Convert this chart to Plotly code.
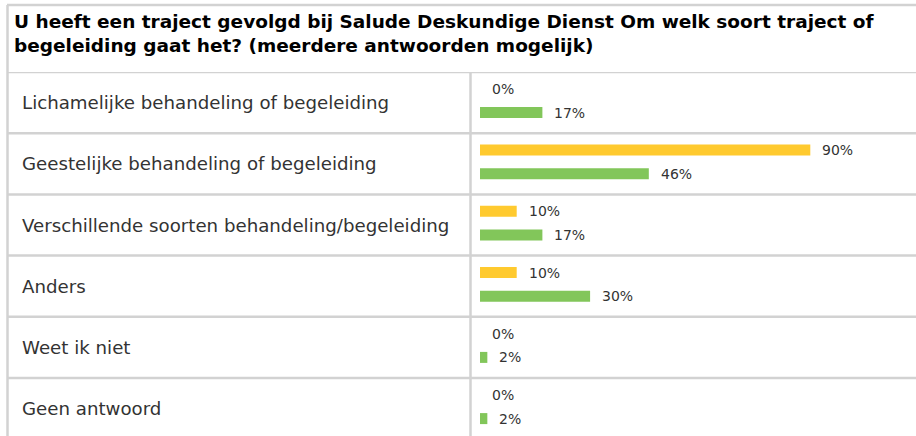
import plotly.graph_objects as go

# ---- data ----
title_lines = [
    "U heeft een traject gevolgd bij Salude Deskundige Dienst Om welk soort traject of",
    "begeleiding gaat het? (meerdere antwoorden mogelijk)",
]
categories = [
    "Lichamelijke behandeling of begeleiding",
    "Geestelijke behandeling of begeleiding",
    "Verschillende soorten behandeling/begeleiding",
    "Anders",
    "Weet ik niet",
    "Geen antwoord",
]
series_yellow = [0, 90, 10, 10, 0, 0]
series_green = [17, 46, 17, 30, 2, 2]

# ---- layout constants (pixels) ----
W, H = 916, 436
L = 480            # plot left edge (bar start)
PLOT_W = 367       # 0..100 %
R = W - L - PLOT_W
T = 72             # header bottom
B = 0
ROW_H = 61.2
PLOT_H = H - T - B
y_top = -0.5
y_bot = y_top + PLOT_H / ROW_H

YELLOW = "#ffca2f"
GREEN = "#82c65a"
LINE = "#d2d2d2"
TXT = "#333333"

bar_h = 11 / ROW_H
yel_c = -13.7 / ROW_H
grn_c = 10.0 / ROW_H

pos = list(range(len(categories)))

fig = go.Figure()
fig.add_trace(go.Bar(
    orientation="h", y=pos, x=series_yellow, marker_color=YELLOW,
    marker_line_width=0,
    width=bar_h, offset=yel_c - bar_h / 2, hoverinfo="skip", showlegend=False,
))
fig.add_trace(go.Bar(
    orientation="h", y=pos, x=series_green, marker_color=GREEN,
    marker_line_width=0,
    width=bar_h, offset=grn_c - bar_h / 2, hoverinfo="skip", showlegend=False,
))

def px_to_paper_x(px):
    return (px - L) / PLOT_W

def px_to_paper_y(py):
    return 1 - (py - T) / PLOT_H

annotations = []
for p, v in zip(pos, series_yellow):
    annotations.append(dict(x=v, y=p + yel_c, xref="x", yref="y", text=f"{v}%",
                            showarrow=False, xanchor="left", yanchor="middle",
                            xshift=10, font=dict(size=14, color=TXT)))
for p, v in zip(pos, series_green):
    annotations.append(dict(x=v, y=p + grn_c, xref="x", yref="y", text=f"{v}%",
                            showarrow=False, xanchor="left", yanchor="middle",
                            xshift=10, font=dict(size=14, color=TXT)))
for p, c in zip(pos, categories):
    annotations.append(dict(x=px_to_paper_x(20), y=p, xref="paper", yref="y", text=c,
                            showarrow=False, xanchor="left", yanchor="middle",
                            font=dict(size=18.2, color=TXT)))
for i, t in enumerate(title_lines):
    annotations.append(dict(x=px_to_paper_x(12), y=px_to_paper_y(21 + 24 * i), xref="paper",
                            yref="paper", text=f"<b>{t}</b>", showarrow=False,
                            xanchor="left", yanchor="middle",
                            font=dict(size=18.5, color="#000000")))

shapes = []
lw = 2.5
# top border
shapes.append(dict(type="line", xref="paper", yref="paper",
                   x0=px_to_paper_x(7), x1=px_to_paper_x(W + 2),
                   y0=px_to_paper_y(5), y1=px_to_paper_y(5), line=dict(color=LINE, width=lw)))
# left border
shapes.append(dict(type="line", xref="paper", yref="paper",
                   x0=px_to_paper_x(7.5), x1=px_to_paper_x(7.5),
                   y0=px_to_paper_y(5), y1=px_to_paper_y(H + 2), line=dict(color=LINE, width=lw)))
# column divider
shapes.append(dict(type="line", xref="paper", yref="paper",
                   x0=px_to_paper_x(470.5), x1=px_to_paper_x(470.5),
                   y0=px_to_paper_y(T), y1=px_to_paper_y(H + 2), line=dict(color=LINE, width=lw)))
# header bottom + row separators
for k in range(len(categories)):
    yy = k - 0.5
    shapes.append(dict(type="line", xref="paper", yref="y",
                       x0=px_to_paper_x(7), x1=px_to_paper_x(W + 2),
                       y0=yy, y1=yy, line=dict(color=LINE, width=lw)))

fig.update_layout(
    width=W, height=H,
    margin=dict(l=L, r=R, t=T, b=B, pad=0),
    paper_bgcolor="white", plot_bgcolor="white",
    font=dict(family="DejaVu Sans, Verdana, sans-serif", color=TXT),
    xaxis=dict(range=[0, 100], visible=False, fixedrange=True),
    yaxis=dict(range=[y_bot, y_top], visible=False, fixedrange=True),
    annotations=annotations, shapes=shapes,
    barmode="overlay",
)

fig.write_html(
    "out.html",
    config={"displayModeBar": False, "staticPlot": True},
    post_script=(
        "document.documentElement.style.margin='0';"
        "document.documentElement.style.overflow='hidden';"
        "document.body.style.margin='0';document.body.style.padding='0';"
        "document.body.style.overflow='hidden';"
    ),
)
